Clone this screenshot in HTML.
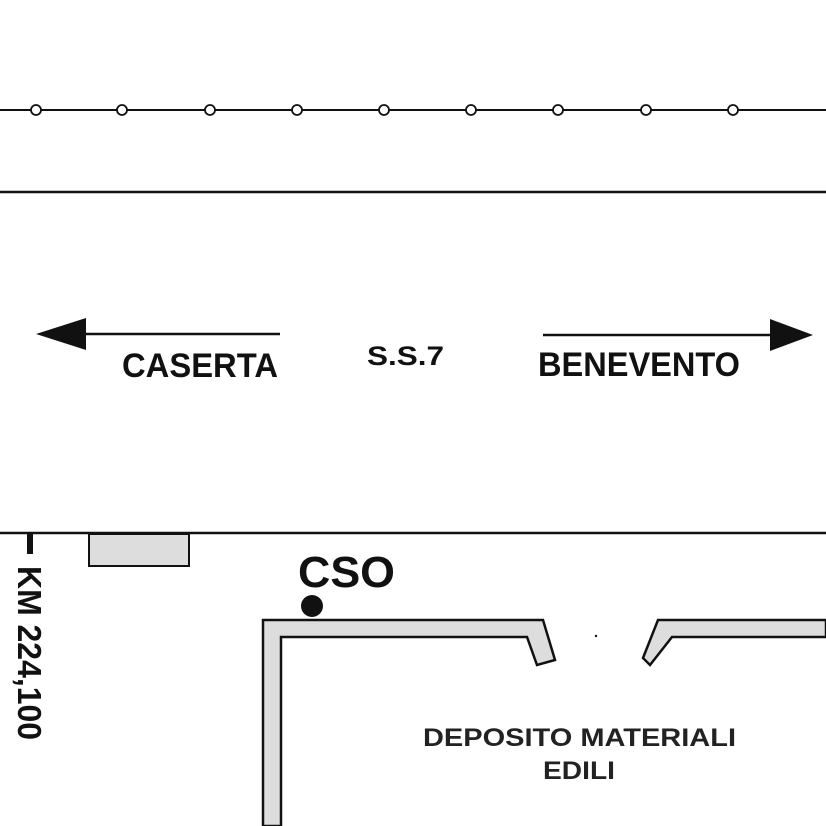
<!DOCTYPE html>
<html><head><style>body{margin:0;background:#fff}svg{display:block}</style></head><body>
<svg width="826" height="826" viewBox="0 0 826 826" xmlns="http://www.w3.org/2000/svg" font-family="Liberation Sans, Arial, sans-serif" font-weight="bold">
<rect width="826" height="826" fill="#fff"/>
<line x1="0" y1="110" x2="826" y2="110" stroke="#111" stroke-width="2"/>
<g fill="#fff" stroke="#111" stroke-width="1.8">
<circle cx="36" cy="110" r="5"/><circle cx="122" cy="110" r="5"/><circle cx="210" cy="110" r="5"/><circle cx="297" cy="110" r="5"/><circle cx="384" cy="110" r="5"/><circle cx="471" cy="110" r="5"/><circle cx="558" cy="110" r="5"/><circle cx="646" cy="110" r="5"/><circle cx="733" cy="110" r="5"/>
</g>
<line x1="0" y1="192" x2="826" y2="192" stroke="#111" stroke-width="2.5"/>
<line x1="0" y1="533" x2="826" y2="533" stroke="#111" stroke-width="2.5"/>
<line x1="80" y1="334" x2="280" y2="334" stroke="#111" stroke-width="2.5"/>
<polygon points="36,334 86,318 86,350" fill="#111"/>
<line x1="543" y1="335" x2="775" y2="335" stroke="#111" stroke-width="2.5"/>
<polygon points="813,335 770,319 770,351" fill="#111"/>
<text x="122" y="377" font-size="34" fill="#111" textLength="156" lengthAdjust="spacingAndGlyphs">CASERTA</text>
<text x="367" y="365" font-size="27" fill="#111" textLength="77" lengthAdjust="spacingAndGlyphs">S.S.7</text>
<text x="538" y="376" font-size="34" fill="#111" textLength="202" lengthAdjust="spacingAndGlyphs">BENEVENTO</text>
<rect x="27" y="534" width="6" height="20" fill="#111"/>
<text transform="translate(18,566) rotate(90)" font-size="33" fill="#111" textLength="174" lengthAdjust="spacingAndGlyphs">KM 224,100</text>
<rect x="89" y="534" width="100" height="32" fill="#ddd" stroke="#111" stroke-width="2"/>
<text x="298" y="587" font-size="44" fill="#111" textLength="97" lengthAdjust="spacingAndGlyphs">CSO</text>
<circle cx="312" cy="606" r="11" fill="#111"/>
<polygon points="263,826 263,620 543,620 555,660 537,665 527,637 281,637 281,826" fill="#ddd" stroke="#111" stroke-width="2.5" stroke-linejoin="miter"/>
<polygon points="826,620 658,620 643,658 650,665 672,637 826,637" fill="#ddd" stroke="#111" stroke-width="2.5"/>
<circle cx="596" cy="636" r="1.2" fill="#111"/>
<text x="423" y="746" font-size="25" fill="#222" textLength="313" lengthAdjust="spacingAndGlyphs">DEPOSITO MATERIALI</text>
<text x="543" y="779" font-size="25" fill="#222" textLength="72" lengthAdjust="spacingAndGlyphs">EDILI</text>
</svg>
</body></html>
